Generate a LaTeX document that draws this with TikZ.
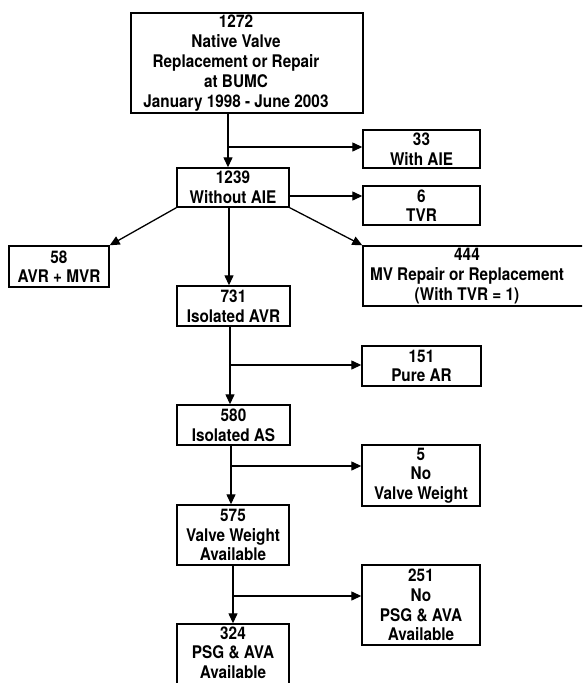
\documentclass[tikz,border=0pt]{standalone}
\usepackage{fontspec}
\setmainfont{TeX Gyre Heros}[FakeStretch=0.88]
\usetikzlibrary{arrows.meta}
\begin{document}
\begin{tikzpicture}[x=1pt,y=-1pt,
  box/.style={draw,line width=1.4pt,inner sep=0pt,align=center,font=\fontsize{17.4}{19.6}\selectfont\bfseries},
  txt/.style={inner sep=0pt,align=center,font=\fontsize{17.4}{20}\selectfont\bfseries},
  arr/.style={line width=1.3pt,-{Triangle[length=10pt,width=9pt]}}]
\useasboundingbox (0,0) rectangle (582,683);
\clip (0,0) rectangle (582,683);
% boxes
\node[box,minimum width=232pt,minimum height=100pt] (top) at (247,63) {};
\node[txt] (toptxt) at (236,63) {1272\\Native Valve\\Replacement or Repair\\at BUMC\\January 1998 - June 2003};
\node[box,minimum width=117pt,minimum height=38pt] (n33) at (421.5,149) {33\\With AIE};
\node[box,minimum width=112pt,minimum height=39pt] (n1239) at (233,187.5) {1239\\Without AIE};
\node[box,minimum width=117pt,minimum height=39pt] (n6) at (421.5,205.5) {6\\TVR};
\node[box,minimum width=100pt,minimum height=41pt] (n58) at (59,266.5) {58\\AVR + MVR};
\node[box,minimum width=237pt,minimum height=60pt] (n444) at (481.5,276) {};
\node[txt] (t444) at (467,276) {444\\MV Repair or Replacement\\(With TVR = 1)};
\node[box,minimum width=113pt,minimum height=40pt] (n731) at (233.5,306) {731\\Isolated AVR};
\node[box,minimum width=119pt,minimum height=40pt] (n151) at (421.5,366) {151\\Pure AR};
\node[box,minimum width=113pt,minimum height=40pt] (n580) at (233.5,425) {580\\Isolated AS};
\node[box,minimum width=118pt,minimum height=61pt] (n5) at (421,475.5) {5\\No\\Valve Weight};
\node[box,minimum width=112pt,minimum height=60pt] (n575) at (233,535) {575\\Valve Weight\\Available};
\node[box,minimum width=118pt,minimum height=80pt] (n251) at (421,605) {251\\No\\PSG \& AVA\\Available};
\node[box,minimum width=112pt,minimum height=66pt] (n324) at (233,657) {};
\node[txt,font=\fontsize{17.4}{19.4}\selectfont\bfseries] (t324) at (233,652.5) {324\\PSG \& AVA\\Available};
% connectors
\coordinate (v1) at (228,0);
\coordinate (v2) at (229,0);
\coordinate (v3) at (230,0);
\coordinate (v4) at (231,0);
\coordinate (v5) at (233,0);
\coordinate (b1) at (228,147);
\coordinate (b2) at (0,196);
\coordinate (b3) at (230,365);
\coordinate (b4) at (231,466);
\coordinate (b5) at (233,596);
\draw[arr] (top.south -| v1) -- (n1239.north -| v1);
\draw[arr] (b1) -- (n33.west |- b1);
\draw[arr] (n1239.east |- b2) -- (n6.west |- b2);
\draw[arr] (n1239.south west) -- (n58.north east);
\draw[arr] (n1239.south east) -- (n444.north west);
\draw[arr] (n1239.south -| v2) -- (n731.north -| v2);
\draw[arr] (n731.south -| v3) -- (n580.north -| v3);
\draw[arr] (b3) -- (n151.west |- b3);
\draw[arr] (n580.south -| v4) -- (n575.north -| v4);
\draw[arr] (b4) -- (n5.west |- b4);
\draw[arr] (n575.south -| v5) -- (n324.north -| v5);
\draw[arr] (b5) -- (n251.west |- b5);
\end{tikzpicture}
\end{document}
